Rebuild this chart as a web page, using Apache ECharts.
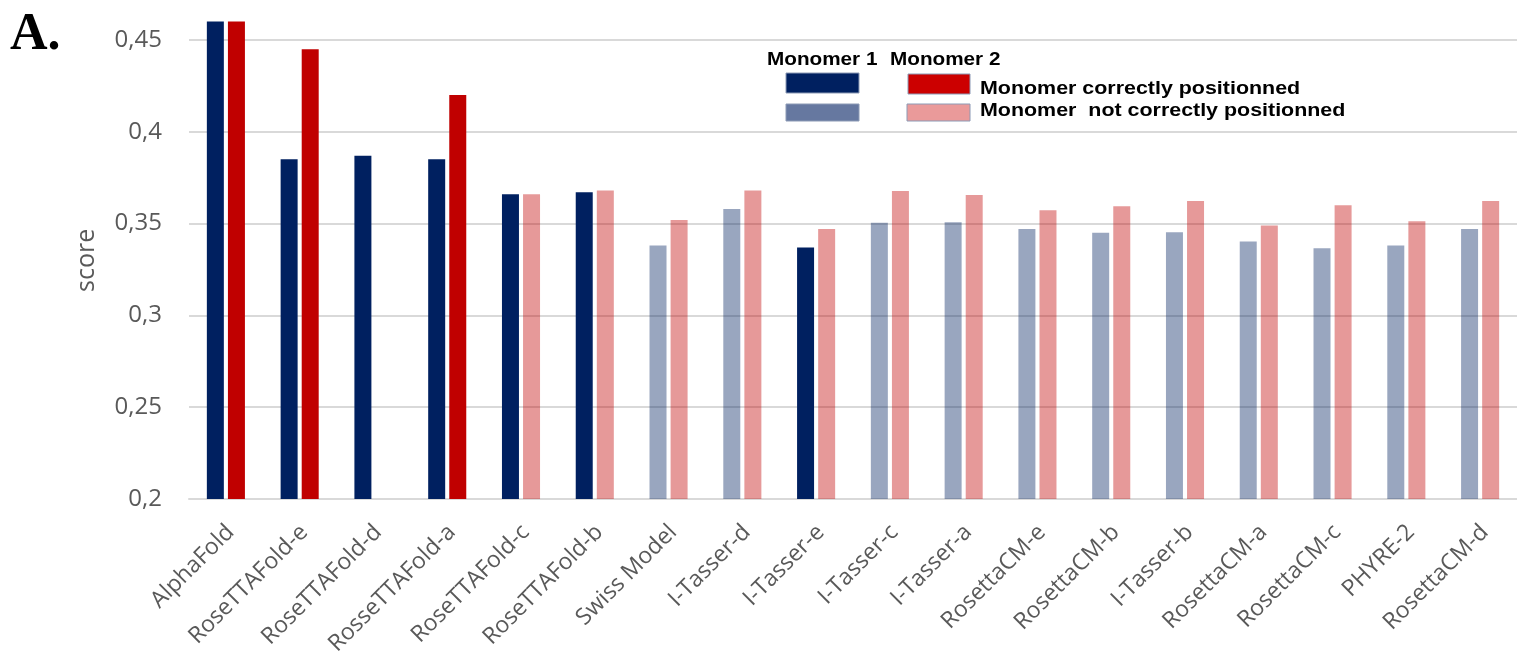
<!DOCTYPE html>
<html>
<head>
<meta charset="utf-8">
<script src="https://cdn.jsdelivr.net/npm/echarts@6/dist/echarts.min.js"></script>
<style>
html,body{margin:0;padding:0;background:#fff;}
#chart{width:1517px;height:662px;}
</style>
</head>
<body>
<div id="chart"></div>
<script>
// ---- data ----
const categories = ['AlphaFold','RoseTTAFold-e','RoseTTAFold-d','RosseTTAFold-a','RoseTTAFold-c','RoseTTAFold-b','Swiss Model','I-Tasser-d','I-Tasser-e','I-Tasser-c','I-Tasser-a','RosettaCM-e','RosettaCM-b','I-Tasser-b','RosettaCM-a','RosettaCM-c','PHYRE-2','RosettaCM-d'];
const monomer1 = [0.46, 0.385, 0.387, 0.385, 0.366, 0.367, 0.338, 0.358, 0.337, 0.3505, 0.3507, 0.347, 0.345, 0.3453, 0.3402, 0.3365, 0.338, 0.347];
const monomer2 = [0.46, 0.445, null, 0.420, 0.366, 0.368, 0.352, 0.368, 0.347, 0.3678, 0.3656, 0.3572, 0.3594, 0.3623, 0.349, 0.360, 0.3513, 0.3623];
// 1 = monomer correctly positioned, 0 = not
const monomer1Correct = [1,1,1,1,1,1,0,0,1,0,0,0,0,0,0,0,0,0];
const monomer2Correct = [1,1,0,1,0,0,0,0,0,0,0,0,0,0,0,0,0,0];
const yTicks = ['0,2','0,25','0,3','0,35','0,4','0,45'];
const legendHeaders = ['Monomer 1','Monomer 2'];
const legendRows = ['Monomer correctly positionned','Monomer  not correctly positionned'];

const navy = '#002060', navyLight = 'rgba(0,32,96,0.4)';
const red = '#C00000', redLight = 'rgba(192,0,0,0.4)';

const s1 = monomer1.map((v,i)=>({value:v, itemStyle:{color: monomer1Correct[i]?navy:navyLight}}));
const s2 = monomer2.map((v,i)=>({value:v, itemStyle:{color: monomer2Correct[i]?red:redLight}}));

const chart = echarts.init(document.getElementById('chart'), null, {renderer:'canvas'});
const gridColors = ['#d9d9d9','#d9d9d9','#d9d9d9','#d9d9d9','#d9d9d9','#d9d9d9','rgba(0,0,0,0)'];
const lbl = (v)=>{ const k = Math.round((v-0.2)/0.05); return (Math.abs(v-(0.2+k*0.05))<1e-6 && yTicks[k]) ? yTicks[k] : ''; };
const legFont = {fontFamily:'Liberation Sans', fontWeight:'bold', fontSize:18, fill:'#000', verticalAlign:'middle', align:'left'};

chart.setOption({
  animation:false,
  grid:{left:189, right:0, top:21.6, bottom:163, containLabel:false},
  xAxis:{
    type:'category', data:categories,
    axisLine:{show:true, lineStyle:{color:'#d9d9d9', width:2}},
    axisTick:{show:false},
    axisLabel:{rotate:45, interval:0, margin:18, padding:[0,5,0,0], verticalAlign:'top', color:'#595959', fontFamily:'Open Sans', fontSize:23}
  },
  yAxis:{
    type:'value', min:0.2, max:0.46, interval:0.05,
    name:'score', nameLocation:'middle', nameGap:90, nameRotate:90,
    nameTextStyle:{color:'#595959', fontFamily:'Open Sans', fontSize:25},
    axisLine:{show:false}, axisTick:{show:false},
    axisLabel:{margin:27, color:'#595959', fontFamily:'Open Sans', fontSize:24, showMaxLabel:false, formatter:lbl},
    splitLine:{show:true, lineStyle:{color:gridColors, width:2}}
  },
  series:[
    {type:'bar', name:'Monomer 1', data:s1, barWidth:17, barGap:'24%'},
    {type:'bar', name:'Monomer 2', data:s2, barWidth:17, barGap:'24%'}
  ],
  graphic:[
    {type:'text', left:10, top:10, style:{text:'A.', fontFamily:'Liberation Serif', fontWeight:'bold', fontSize:52, fill:'#000'}},
    {type:'text', x:767, y:60, scaleX:1.15, style:Object.assign({text:legendHeaders[0]}, legFont)},
    {type:'text', x:890, y:60, scaleX:1.15, style:Object.assign({text:legendHeaders[1]}, legFont)},
    {type:'rect', shape:{x:786, y:73, width:73, height:20}, style:{fill:'#002060', stroke:'#8c9ab5', lineWidth:1}},
    {type:'rect', shape:{x:908, y:74, width:62, height:20}, style:{fill:'#CC0000', stroke:'#8c9ab5', lineWidth:1}},
    {type:'rect', shape:{x:786, y:104, width:73, height:17}, style:{fill:'#6678A0', stroke:'#8c9ab5', lineWidth:1}},
    {type:'rect', shape:{x:907, y:104, width:63, height:17}, style:{fill:'#EA9A9A', stroke:'#8c9ab5', lineWidth:1}},
    {type:'text', x:980, y:89, scaleX:1.19, style:Object.assign({text:legendRows[0]}, legFont)},
    {type:'text', x:980, y:111, scaleX:1.19, style:Object.assign({text:legendRows[1]}, legFont)}
  ]
});
</script>
</body>
</html>
